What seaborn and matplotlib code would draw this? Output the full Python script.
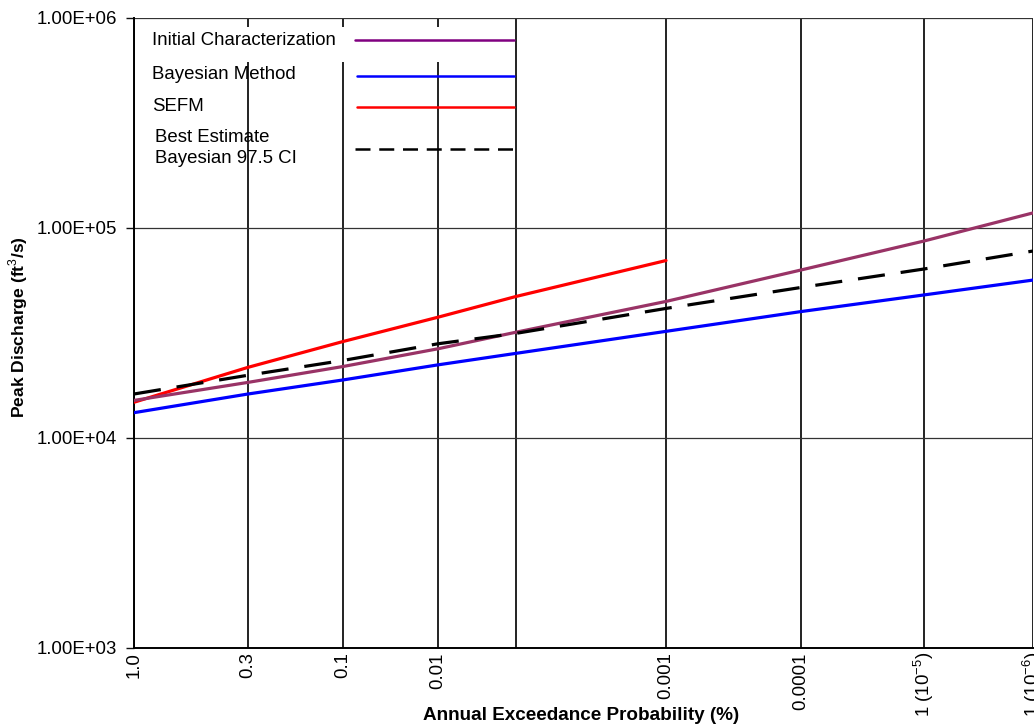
import numpy as np
import pandas as pd
import matplotlib
matplotlib.use("Agg")
import matplotlib.pyplot as plt
from matplotlib.ticker import FixedLocator, FuncFormatter, NullLocator
from matplotlib.patches import Rectangle
import seaborn as sns

# 横轴刻度（自定义概率坐标，位置为绘图位置）
tick_labels = ["1.0", "0.3", "0.1", "0.01", "", "0.001", "0.0001",
               "1 (10$^{-5}$)", "1 (10$^{-6}$)"]
tick_pos = [0, 114, 209, 304, 382, 532, 667, 790, 899]

# 各条曲线在竖网格线处的读数 (ft3/s)
initial_char = [15100, 18400, 21900, 26600, 31900, 44700, 63100, 86700, 118000]
bayesian = [13200, 16200, 18900, 22300, 25300, 32200, 40000, 48000, 56500]
best_est_ci = [16200, 19900, 23400, 28100, 31500, 41400, 52100, 63800, 77700]
sefm = [14800, 21700, 28800, 37600, 47200, 70000]

sns.set_theme(style="white")
plt.rcParams['font.family'] = ['Liberation Sans', 'DejaVu Sans']
plt.rcParams['mathtext.fontset'] = 'custom'
plt.rcParams['mathtext.rm'] = 'Liberation Sans'
plt.rcParams['mathtext.bf'] = 'Liberation Sans:bold'
for k in ['text.color', 'axes.labelcolor', 'xtick.color', 'ytick.color']:
    plt.rcParams[k] = 'black'

fs = 13.4
fig = plt.figure(figsize=(10.34, 7.27), dpi=100)
ax = fig.add_axes([134 / 1034, 79 / 727, 899 / 1034, 630 / 727])

# 网格
for xp in tick_pos:
    ax.axvline(xp, color="#111111", lw=1.3, zorder=1)
for yv in [1e4, 1e5, 1e6]:
    ax.axhline(yv, color="#333333", lw=0.9, zorder=1)

df_main = pd.DataFrame({"pos": tick_pos, "initial": initial_char,
                        "bayes": bayesian, "best": best_est_ci})
df_sefm = pd.DataFrame({"pos": tick_pos[:len(sefm)], "sefm": sefm})

sns.lineplot(data=df_main, x="pos", y="bayes", ax=ax, color="#0000FF", lw=2.3, zorder=3)
sns.lineplot(data=df_sefm, x="pos", y="sefm", ax=ax, color="#FF0000", lw=2.3, zorder=3)
sns.lineplot(data=df_main, x="pos", y="initial", ax=ax, color="#993366", lw=2.3, zorder=4)
sns.lineplot(data=df_main, x="pos", y="best", ax=ax, color="black", lw=2.3, zorder=5)
ax.lines[-1].set_dashes((8.5, 5))

ax.set_yscale("log")
ax.set_ylim(1e3, 1e6)
ax.set_xlim(0, 899)
ax.yaxis.set_major_locator(FixedLocator([1e3, 1e4, 1e5, 1e6]))
ax.yaxis.set_minor_locator(NullLocator())
ax.yaxis.set_major_formatter(FuncFormatter(lambda v, p: f"{v:.2E}"))
ax.set_xticks(tick_pos)
ax.set_xticklabels(tick_labels, rotation=90, fontsize=fs, va="top", ha="center")
ax.tick_params(axis="x", length=0, pad=3)
ax.tick_params(axis="y", which="major", left=True, length=6, width=1.0,
               color="#111111", pad=6, labelsize=fs)

for side in ["top", "right"]:
    ax.spines[side].set_visible(False)
for side in ["left", "bottom"]:
    ax.spines[side].set_color("black")
    ax.spines[side].set_linewidth(1.4)

ax.set_xlabel("Annual Exceedance Probability (%)", fontsize=13.6, fontweight="bold",
              va="center", ha="center",
              family=['Liberation Sans Narrow', 'Liberation Sans', 'DejaVu Sans'])
ax.xaxis.set_label_coords(0.497, -0.1065)
ax.set_ylabel("Peak Discharge (ft$^3$/s)", fontsize=12.6, fontweight="bold",
              va="center", ha="center")
ax.yaxis.set_label_coords(-0.1285, 0.5095)

# 手工图例
ax.add_patch(Rectangle((0.0067, 0.930), 0.411, 0.0556, transform=ax.transAxes,
                       facecolor="white", edgecolor="none", zorder=2))
ax.text(0.020, 0.9635, "Initial Characterization", transform=ax.transAxes,
        fontsize=fs, va="center", ha="left", zorder=6)
ax.text(0.020, 0.911, "Bayesian Method", transform=ax.transAxes,
        fontsize=fs, va="center", ha="left", zorder=6)
ax.text(0.020, 0.860, "SEFM", transform=ax.transAxes,
        fontsize=fs, va="center", ha="left", zorder=6)
ax.text(0.0234, 0.7935, "Best Estimate\nBayesian 97.5 CI", transform=ax.transAxes,
        fontsize=fs, va="center", ha="left", linespacing=1.35, zorder=6)
ax.plot([0.2458, 0.4227], [0.9643, 0.9643], transform=ax.transAxes,
        color="#800080", lw=1.8, zorder=6)
ax.plot([0.248, 0.4227], [0.9084, 0.9084], transform=ax.transAxes,
        color="#0000FF", lw=1.8, zorder=6)
ax.plot([0.248, 0.4227], [0.858, 0.858], transform=ax.transAxes,
        color="#FF0000", lw=1.8, zorder=6)
ax.plot([0.2458, 0.4227], [0.7927, 0.7927], transform=ax.transAxes,
        color="black", lw=1.8, dashes=(6, 3.5), zorder=6)

fig.savefig("out.png", dpi=100, facecolor="white")
plt.close(fig)
